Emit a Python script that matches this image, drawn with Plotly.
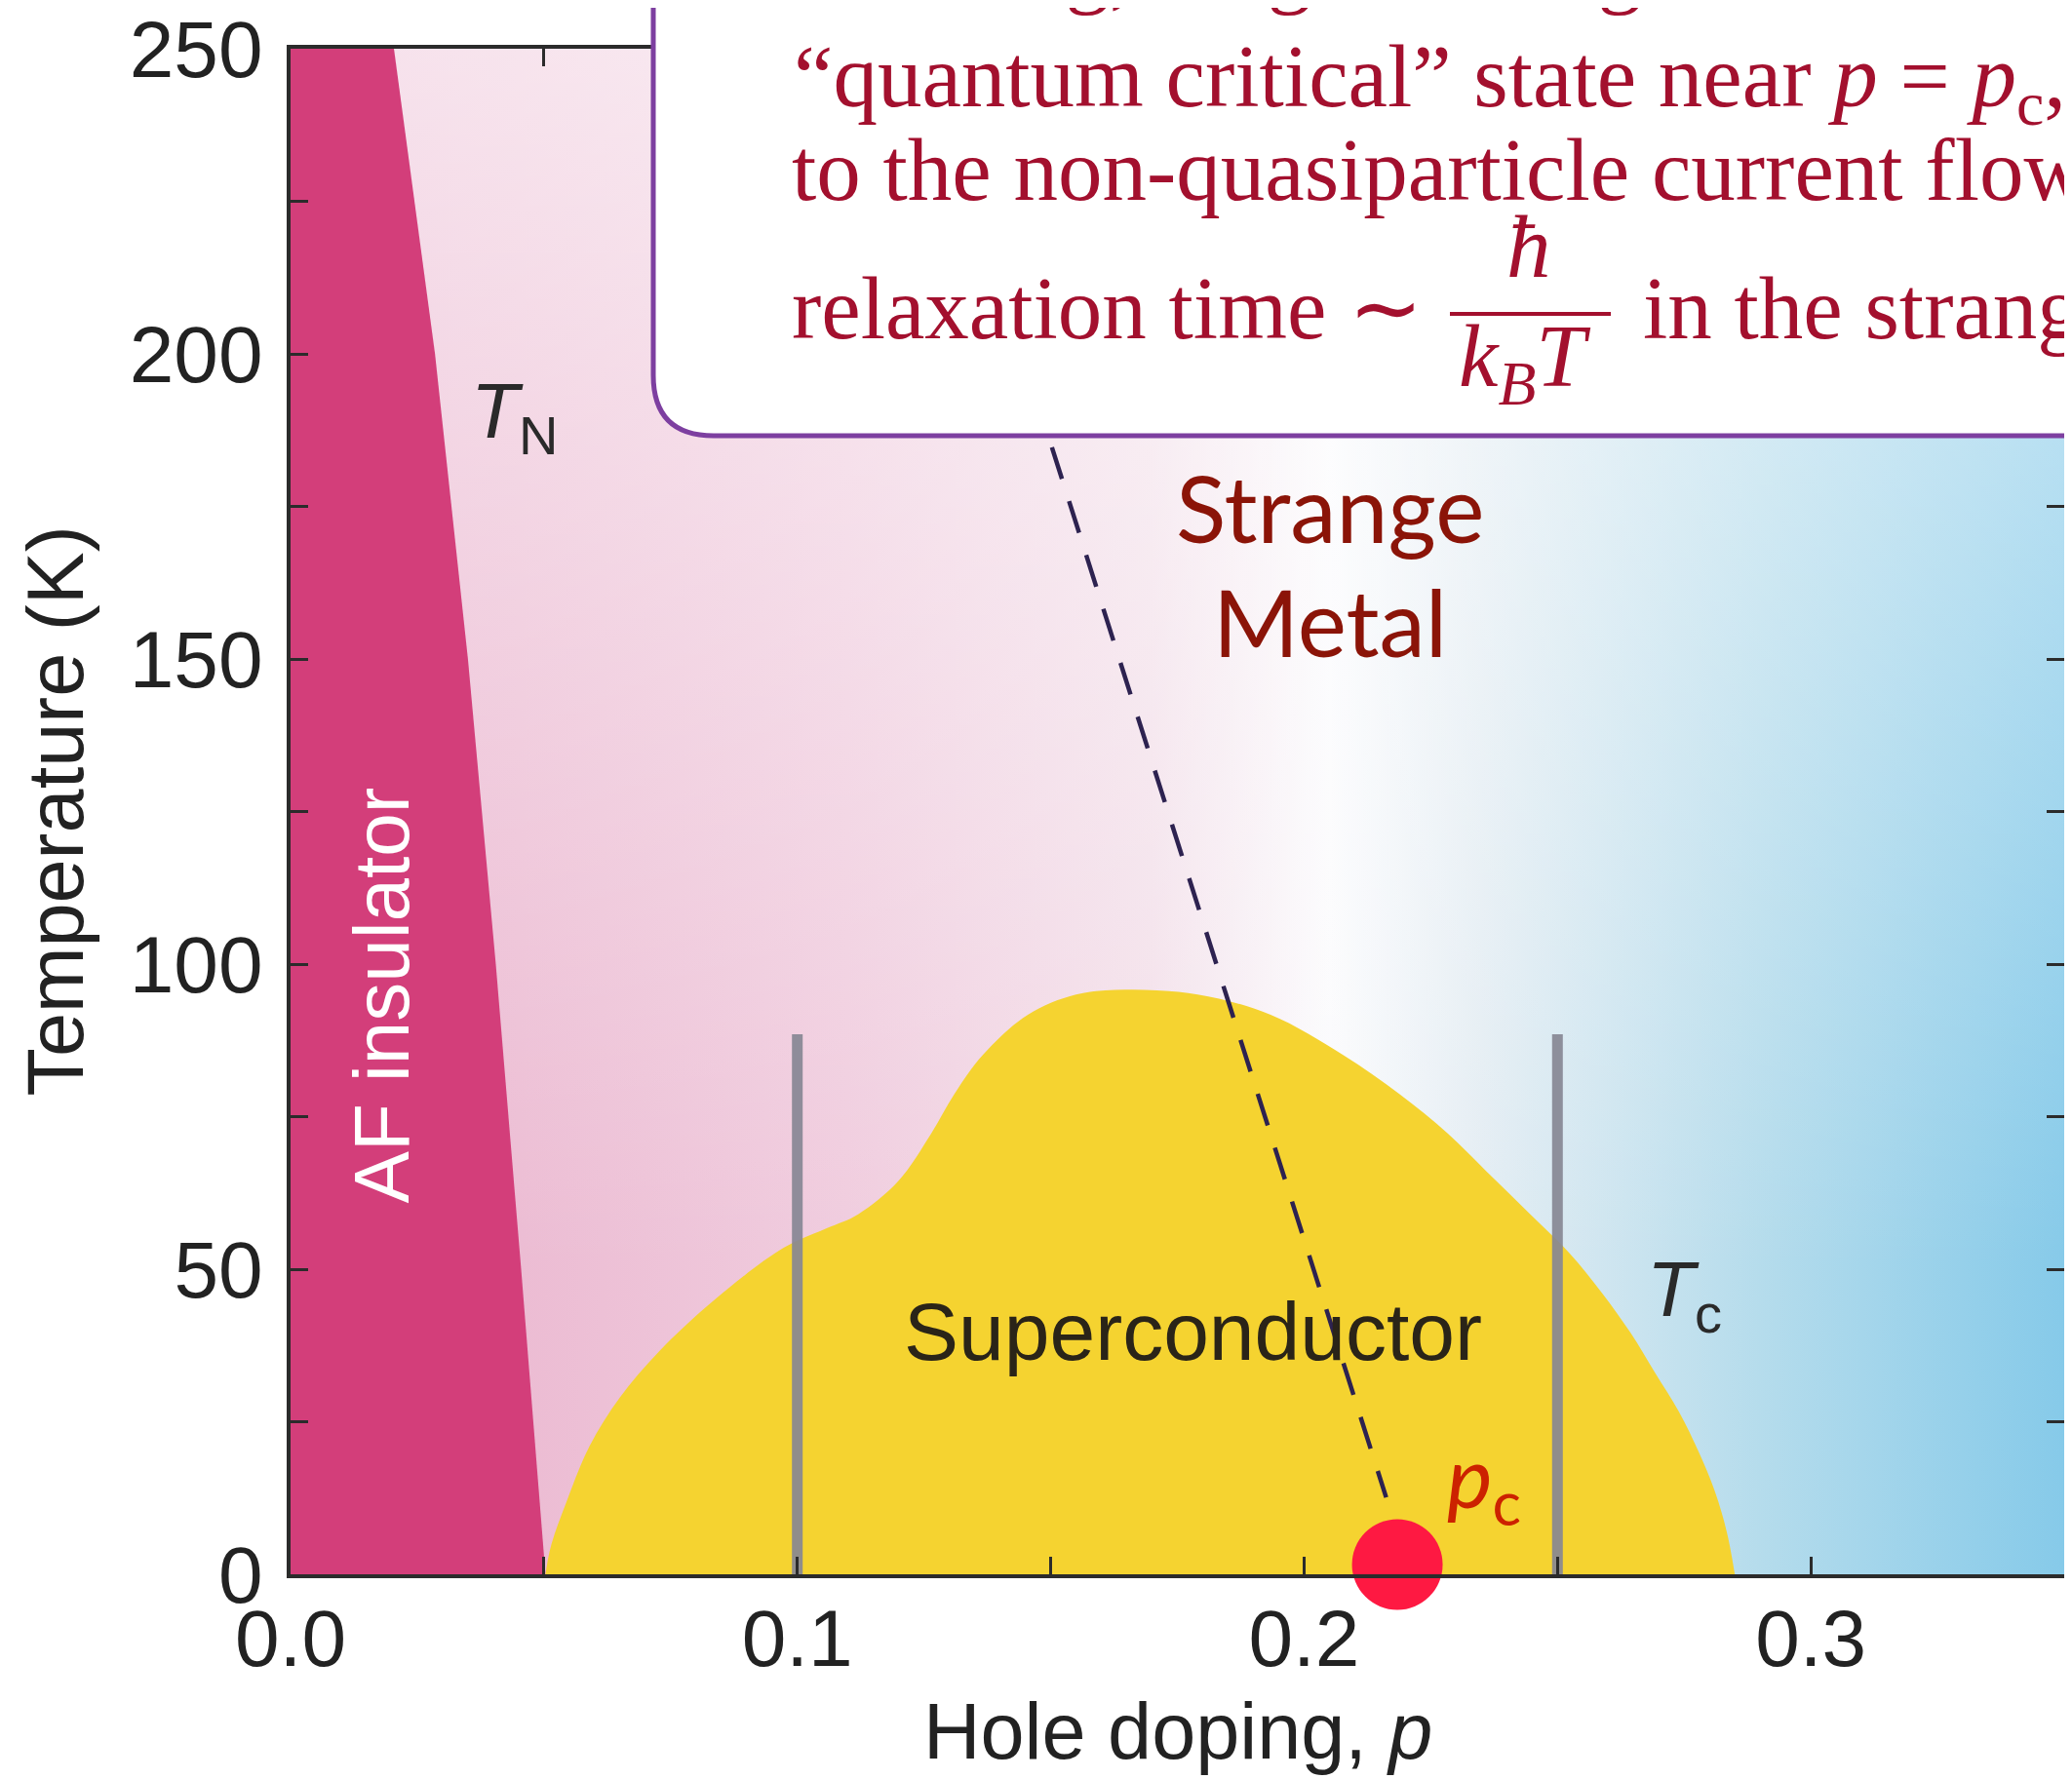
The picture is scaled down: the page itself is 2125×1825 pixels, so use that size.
import plotly.graph_objects as go

# ---------------- data ----------------
P_RANGE = [0.0, 0.35]
T_RANGE = [0, 250]

x_tickvals = [0.0, 0.1, 0.2, 0.3]
x_ticktext = ["0.0", "0.1", "0.2", "0.3"]
y_tickvals = [0, 50, 100, 150, 200, 250]
y_ticktext = ["0", "50", "100", "150", "200", "250"]

# background region (whole phase diagram)
bg_p = [0.0, 0.35, 0.35, 0.0]
bg_T = [0, 0, 250, 250]

# antiferromagnetic insulator boundary T_N(p)
af_p = [0.0, 0.0, 0.0204, 0.0285, 0.0350, 0.0405, 0.0455, 0.0503]
af_T = [0, 250, 250, 200, 150, 100, 50, 0]

# superconducting dome T_c(p)
dome_p = [0.0500, 0.0503, 0.0515, 0.0545, 0.0590, 0.0650, 0.0727, 0.0837, 0.0973, 0.1058,
          0.1120, 0.1199, 0.1264, 0.1310, 0.1366, 0.1455, 0.1550, 0.1647, 0.1790, 0.1934,
          0.2077, 0.2188, 0.2284, 0.2364, 0.2444, 0.2524, 0.2588, 0.2644, 0.2692,
          0.2740, 0.2779, 0.2811, 0.2834, 0.2850, 0.2855]
dome_T = [-3, 0, 5.0, 12.0, 21.0, 29.0, 36.5, 45.0, 53.5, 56.7,
          59.0, 64.4, 72.2, 78.7, 85.1, 91.7, 95.0, 95.8, 95.0, 91.7,
          85.1, 78.7, 72.2, 65.7, 59.2, 52.6, 46.1, 39.6, 33.1,
          26.6, 20.0, 13.5, 7.0, 0, -3]

# grey vertical markers
bar_p = [0.10, 0.25]
bar_T_top = 88.5

# dashed crossover line ending at p_c
dash_p = [0.1367, 0.2162]
dash_T = [220, 12.6]

# quantum critical point
pc_p = [0.2184]
pc_T = [1.6]

# ---------------- layout helpers ----------------
W, H = 2125, 1825
PAGE = 8                      # default body margin of the html page
SL, ST, SR, SB = 298, 50, 2117, 1615   # plot area on screen
PW, PH = SR - SL, SB - ST


def fx(px):
    return (px - SL) / PW


def fy(py):
    return (SB - py) / PH


SERIF = "Liberation Serif, Times New Roman, serif"
SANS = "Liberation Sans, Arial, Helvetica, sans-serif"
HUM = "Lato, Noto Sans, sans-serif"
CRIMSON = "#A3102E"

fig = go.Figure()

# background gradient pink -> white -> blue
fig.add_trace(go.Scatter(
    x=bg_p, y=bg_T, mode="lines", fill="toself", line=dict(width=0),
    fillgradient=dict(type="horizontal", colorscale=[
        [0.0, "#E9B4CF"], [0.129, "#ECBCD3"], [0.314, "#F0CCDE"], [0.486, "#F3E0EA"],
        [0.586, "#FBFBFD"], [0.671, "#E4EDF3"], [0.829, "#B5DCEC"], [1.0, "#86CAE9"]]),
    hoverinfo="skip", showlegend=False))
# lighter towards the top
fig.add_trace(go.Scatter(
    x=bg_p, y=bg_T, mode="lines", fill="toself", line=dict(width=0),
    fillgradient=dict(type="vertical", colorscale=[
        [0.0, "rgba(255,255,255,0)"], [0.2, "rgba(255,255,255,0)"],
        [1.0, "rgba(255,255,255,0.6)"]]),
    hoverinfo="skip", showlegend=False))

# AF insulator
fig.add_trace(go.Scatter(
    x=af_p, y=af_T, mode="lines", fill="toself", fillcolor="#D33E7A",
    line=dict(width=0), hoverinfo="skip", showlegend=False))

# superconducting dome
fig.add_trace(go.Scatter(
    x=dome_p, y=dome_T, mode="lines", fill="toself", fillcolor="#F5D330",
    line=dict(width=0, shape="spline", smoothing=1.0), hoverinfo="skip", showlegend=False))

# grey vertical bars
bx, by = [], []
for p in bar_p:
    bx += [p, p, None]
    by += [0, bar_T_top, None]
fig.add_trace(go.Scatter(
    x=bx, y=by, mode="lines", line=dict(color="rgba(135,135,148,0.92)", width=11),
    hoverinfo="skip", showlegend=False))

# dashed line
fig.add_trace(go.Scatter(
    x=dash_p, y=dash_T, mode="lines", line=dict(color="#2D2250", width=4.5, dash="34px,24px"),
    hoverinfo="skip", showlegend=False))

# critical point
fig.add_trace(go.Scatter(
    x=pc_p, y=pc_T, mode="markers", marker=dict(size=93, color="#FE1942", line=dict(width=0)),
    cliponaxis=False, hoverinfo="skip", showlegend=False))

# ---------------- text box ----------------
R = 62
BL, BB = 670, 447
box_path = (f"M {fx(2300)} {fy(-200)} L {fx(BL)} {fy(-200)} L {fx(BL)} {fy(BB - R)} "
            f"Q {fx(BL)} {fy(BB)} {fx(BL + R)} {fy(BB)} L {fx(2300)} {fy(BB)} Z")
shapes = [
    dict(type="path", xref="paper", yref="paper", path=box_path, fillcolor="white",
         line=dict(color="#7D3FA0", width=5), layer="above"),
    dict(type="line", xref="paper", yref="paper", x0=fx(1487), x1=fx(1652), y0=fy(322), y1=fy(322),
         line=dict(color=CRIMSON, width=4), layer="above"),
]

BS = 91
K_SERIF = 0.3375


def box_text(txt, x_px, base_px, size=BS, anchor="left"):
    return dict(text=txt, xref="paper", yref="paper", x=fx(x_px), y=fy(base_px - K_SERIF * size),
                xanchor=anchor, yanchor="middle", showarrow=False,
                font=dict(family=SERIF, size=size, color=CRIMSON))


annotations = [
    box_text("In strong, long-standing evidence for the", 810, -3),
    box_text("“quantum critical” state near <i>p</i> = <i>p</i><sub>c</sub>, which gives rise", 812, 116),
    box_text("to the non-quasiparticle current flow, with a", 810, 205),
    box_text("relaxation time ∼", 810, 347),
    box_text("<i>ħ</i>", 1568, 284, anchor="center"),
    box_text("<i>k</i><sub><i>B</i></sub><i>T</i>", 1563, 403, anchor="center"),
    box_text("in the strange metal.", 1683, 347),
]

# labels inside the diagram
annotations += [
    dict(text="AF insulator", x=0.0180, y=94.9, xref="x", yref="y", textangle=-90,
         showarrow=False, font=dict(family=SANS, size=80, color="white")),
    dict(text="Superconductor", x=0.1780, y=39.7, xref="x", yref="y", showarrow=False,
         font=dict(family=SANS, size=84, color="#2A2418")),
    dict(text="<i>T</i><sub>N</sub>", x=0.0353, y=189.7, xref="x", yref="y", xanchor="left",
         showarrow=False, font=dict(family=SANS, size=80, color="#2A2A2A")),
    dict(text="<i>T</i><sub>c</sub>", x=0.2673, y=45.7, xref="x", yref="y", xanchor="left",
         showarrow=False, font=dict(family=SANS, size=80, color="#2A2A2A")),
    dict(text="Strange", x=0.2051, y=175.0, xref="x", yref="y", showarrow=False,
         font=dict(family=HUM, size=95, color="#8B1408")),
    dict(text="Metal", x=0.2051, y=156.2, xref="x", yref="y", showarrow=False,
         font=dict(family=HUM, size=95, color="#8B1408")),
    dict(text="<i>p</i><sub>c</sub>", x=0.2278, y=15.3, xref="x", yref="y", xanchor="left",
         showarrow=False, font=dict(family=HUM, size=88, color="#CC2200")),
    # axis titles
    dict(text="Temperature (K)", x=fx(56), y=0.5, xref="paper", yref="paper", textangle=-90,
         xanchor="center", yanchor="middle",
         showarrow=False, font=dict(family=SANS, size=81, color="#222222")),
    dict(text="Hole doping, <i>p</i>", x=0.5, y=fy(1776), xref="paper", yref="paper",
         xanchor="center", yanchor="middle",
         showarrow=False, font=dict(family=SANS, size=81, color="#222222")),
]

axis_common = dict(
    showgrid=False, zeroline=False, showline=True, linecolor="#2B2B2B", linewidth=4,
    mirror="ticks", ticks="inside", ticklen=18, tickwidth=3, tickcolor="#2B2B2B",
    tickfont=dict(family=SANS, size=82, color="#222222"), ticklabeloverflow="allow",
    automargin=False,
)

fig.update_layout(
    width=W, height=H,
    margin=dict(l=SL - PAGE, r=W - SR + PAGE, t=ST - PAGE, b=H - SB + PAGE, autoexpand=False),
    paper_bgcolor="white", plot_bgcolor="white",
    xaxis=dict(range=P_RANGE, tickvals=x_tickvals, ticktext=x_ticktext,
               minor=dict(tickvals=[0.05, 0.15, 0.25], ticks="inside", ticklen=18, tickwidth=3,
                          tickcolor="#2B2B2B"),
               ticklabelstandoff=-8, **axis_common),
    yaxis=dict(range=T_RANGE, tickvals=y_tickvals, ticktext=y_ticktext,
               minor=dict(tickvals=[25, 75, 125, 175, 225], ticks="inside", ticklen=18, tickwidth=3,
                          tickcolor="#2B2B2B"),
               ticklabelstandoff=8, **axis_common),
    shapes=shapes,
    annotations=annotations,
    showlegend=False,
)

fig.write_html("out.html")
